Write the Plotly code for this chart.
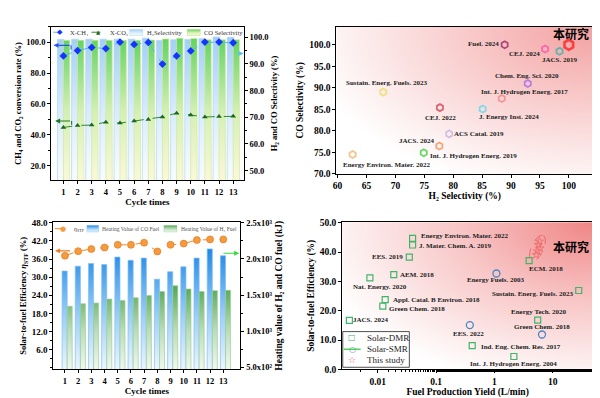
import base64
import numpy as np
import plotly.graph_objects as go

# ---------------- data ----------------
cycles = list(range(1, 14))
x_ch4 = [91.1, 94.5, 96.6, 95.8, 100.0, 98.5, 99.8, 85.8, 91.1, 94.3, 100.0, 100.0, 99.6]
x_co2 = [44.8, 46.1, 46.3, 48.2, 47.6, 48.9, 50.0, 51.6, 54.0, 52.9, 51.6, 51.8, 52.0]
h2_selectivity = [99.2, 99.3, 99.3, 99.3, 99.3, 99.3, 99.7, 98.8, 99.1, 99.2, 99.5, 100.1, 100.0]
co_selectivity = [98.9, 98.9, 98.9, 98.9, 98.9, 98.9, 99.0, 99.4, 99.7, 99.6, 99.1, 99.1, 99.1]

eta_stf = [37.1, 38.6, 39.3, 39.8, 40.7, 40.7, 41.4, 38.5, 40.7, 41.1, 42.3, 42.5, 42.5]
co_fuel_heat = [1832, 1900, 1936, 1922, 2026, 1981, 2012, 1719, 1823, 1891, 2012, 2139, 2044]
h2_fuel_heat = [1344, 1380, 1389, 1444, 1426, 1462, 1494, 1548, 1629, 1584, 1548, 1561, 1566]

tr_names = ['本研究', 'Fuel. 2024', 'CEJ. 2024', 'JACS. 2019', 'Chem. Eng. Sci. 2020',
            'Int. J. Hydrogen Energ. 2017', 'Sustain. Energ. Fuels. 2023', 'CEJ. 2022',
            'J. Energy Inst. 2024', 'ACS Catal. 2019', 'JACS. 2024',
            'Int. J. Hydrogen Energ. 2019', 'Energy Environ. Mater. 2022']
tr_h2_sel = [100.0, 88.9, 95.9, 98.4, 92.9, 88.4, 67.9, 77.7, 85.1, 79.3, 77.6, 74.9, 62.6]
tr_co_sel = [100.0, 100.0, 99.0, 98.5, 91.0, 87.5, 89.0, 85.4, 85.1, 79.3, 76.5, 74.9, 74.5]

dmr_names = ['Energy Environ. Mater. 2022', 'J. Mater. Chem. A. 2019', 'EES. 2019', 'AEM. 2018',
             'Nat. Energy. 2020', 'Appl. Catal. B Environ. 2018', 'Green Chem. 2018', 'JACS. 2024',
             'ECM. 2018', 'Sustain. Energ. Fuels. 2023', 'Energy Tech. 2020',
             'Ind. Eng. Chem. Res. 2017', 'Int. J. Hydrogen Energ. 2004']
dmr_yield = [0.0395, 0.0395, 0.0347, 0.0188, 0.00733, 0.0134, 0.0122, 0.00326,
             3.92, 27.8, 5.5, 0.415, 2.15]
dmr_eff = [44.7, 42.4, 38.3, 32.3, 31.2, 23.8, 21.6, 16.7, 37.1, 26.9, 16.8, 8.1, 4.4]

smr_names = ['Energy Fuels. 2003', 'EES. 2022', 'Green Chem. 2018']
smr_yield = [1.08, 0.378, 6.52]
smr_eff = [32.7, 15.1, 11.9]

study_yield = [5.9, 5.6, 6.05, 5.4, 5.15]
study_eff = [43.6, 42.5, 41.3, 40.3, 39.1]

tl_left_ticks = [20, 40, 60, 80, 100]
tl_right_ticks = [50, 60, 70, 80, 90, 100]
tr_x_ticks = [60, 65, 70, 75, 80, 85, 90, 95, 100]
tr_y_ticks = [70, 75, 80, 85, 90, 95, 100]
bl_left_ticks = [6, 12, 18, 24, 30, 36, 42, 48]
bl_right_ticks = [500, 1000, 1500, 2000, 2500]
bl_right_text = ['5.0x10²', '1.0x10³', '1.5x10³', '2.0x10³', '2.5x10³']
br_x_ticks = [0.01, 0.1, 1, 10]
br_x_text = ['0.01', '0.1', '1', '10']
br_y_ticks = [0, 10, 20, 30, 40, 50]

# ---------------- styles ----------------
SERIF = 'Liberation Serif'
CJK = 'Noto Sans CJK SC'
W, H = 600, 398

tr_colors = ['#ff1010', '#8e1458', '#ff45a8', '#22b5ad', '#9a5cf5', '#f27c7c', '#eadc5a',
             '#c8344e', '#45dcef', '#c3aee0', '#f2823e', '#22cc22', '#f2aa5a']
tr_label_shift = {  # pixel offsets of labels from their points
    '本研究': (2, 11), 'Fuel. 2024': (-21, 1), 'CEJ. 2024': (-21, -5), 'JACS. 2019': (0, -9),
    'Chem. Eng. Sci. 2020': (-1, 8), 'Int. J. Hydrogen Energ. 2017': (23, 7),
    'Sustain. Energ. Fuels. 2023': (3, 9), 'CEJ. 2022': (1, -10),
    'J. Energy Inst. 2024': (26, -8), 'ACS Catal. 2019': (30, 0), 'JACS. 2024': (-22, 5),
    'Int. J. Hydrogen Energ. 2019': (50, -3), 'Energy Environ. Mater. 2022': (34, -10)}
dmr_label_shift = [(52, 2), (43, -1), (-22, 0), (23, 0), (10, -9), (51, 0), (34, -3), (22, 0),
                   (17, -8), (-46, -4), (1, 8), (49, -1), (0, -7)]
smr_label_shift = [(-1, -7), (-1, -9), (0, 7)]


def px(x):
    return x / W


def py(y):
    return 1 - y / H


def svg_uri(svg):
    return 'data:image/svg+xml;base64,' + base64.b64encode(svg.encode('utf-8')).decode()


def grad_box(top, mid, bottom, stroke):
    svg = ('<svg xmlns="http://www.w3.org/2000/svg" width="40" height="20" viewBox="0 0 40 20" '
           'preserveAspectRatio="none"><defs><linearGradient id="g" x1="0" y1="0" x2="0" y2="1">'
           f'<stop offset="0" stop-color="{top}"/><stop offset="0.5" stop-color="{mid}"/>'
           f'<stop offset="1" stop-color="{bottom}"/></linearGradient></defs>'
           f'<rect x="1" y="1" width="38" height="18" fill="url(#g)" stroke="{stroke}" stroke-width="1.5"/></svg>')
    return svg_uri(svg)


def radial_bg(c0, c1, c2):
    svg = ('<svg xmlns="http://www.w3.org/2000/svg" width="100" height="100" viewBox="0 0 100 100" '
           'preserveAspectRatio="none"><defs><radialGradient id="r" cx="1" cy="0" r="1.15">'
           f'<stop offset="0" stop-color="{c0}"/><stop offset="0.45" stop-color="{c1}"/>'
           f'<stop offset="0.85" stop-color="{c2}"/><stop offset="1" stop-color="#ffffff"/>'
           '</radialGradient></defs><rect width="100" height="100" fill="url(#r)"/></svg>')
    return svg_uri(svg)


def bar_paths(centers, vals, lo, hi, base):
    xs, ys = [], []
    for c, v in zip(centers, vals):
        xs += [c + lo, c + lo, c + hi, c + hi, c + lo, None]
        ys += [base, v, v, base, base, None]
    return xs, ys


fig = go.Figure()

# ---------------- top-left ----------------
TL_R_MIN = 46.3
bx, by = bar_paths(cycles, h2_selectivity, -0.42, 0.05, TL_R_MIN)
fig.add_trace(go.Scatter(
    x=bx, y=by, mode='lines', fill='toself',
    fillgradient=dict(type='vertical', start=TL_R_MIN, stop=100.1,
                      colorscale=[[0, '#fbfdff'], [0.5, '#d9ecfb'], [1, '#a2cff5']]),
    line=dict(color='#acd6f6', width=0.7), xaxis='x', yaxis='y',
    showlegend=False, hoverinfo='skip'))
gx, gy = bar_paths(cycles, co_selectivity, 0.0, 0.45, TL_R_MIN)
fig.add_trace(go.Scatter(
    x=gx, y=gy, mode='lines', fill='toself',
    fillgradient=dict(type='vertical', start=TL_R_MIN, stop=99.7,
                      colorscale=[[0, '#fcf9dc'], [0.5, '#d3f0b4'], [1, '#62d362']]),
    line=dict(color='#d6e8a0', width=0.7), xaxis='x', yaxis='y',
    showlegend=False, hoverinfo='skip'))
fig.add_trace(go.Scatter(
    x=cycles, y=x_ch4, mode='lines+markers', name='X-CH₄',
    line=dict(color='#52b9ec', dash='dash', width=1),
    marker=dict(symbol='diamond', size=6, color='#1535ff'),
    xaxis='x', yaxis='y2', showlegend=False))
fig.add_trace(go.Scatter(
    x=cycles, y=x_co2, mode='lines+markers', name='X-CO₂',
    line=dict(color='#2f8a2f', dash='dash', width=1),
    marker=dict(symbol='triangle-up', size=5, color='#1d661d'),
    xaxis='x', yaxis='y2', showlegend=False))

# ---------------- top-right ----------------
fig.add_trace(go.Scatter(
    x=tr_h2_sel, y=tr_co_sel, mode='markers',
    marker=dict(symbol='hexagon-open', size=[10] + [7] * 12, color=tr_colors,
                line=dict(width=[2.6] + [1.8] * 12)),
    xaxis='x2', yaxis='y3', showlegend=False, hoverinfo='skip'))

# ---------------- bottom-left ----------------
BL_R_MIN = 470
cx_, cy_ = bar_paths(cycles, co_fuel_heat, -0.22, 0.17, BL_R_MIN)
fig.add_trace(go.Scatter(
    x=cx_, y=cy_, mode='lines', fill='toself',
    fillgradient=dict(type='vertical', start=BL_R_MIN, stop=max(co_fuel_heat),
                      colorscale=[[0, '#f3f9fe'], [0.45, '#9fd0f7'], [1, '#2188e6']]),
    line=dict(color='#7cc0f2', width=0.7), xaxis='x3', yaxis='y4',
    showlegend=False, hoverinfo='skip'))
hx_, hy_ = bar_paths(cycles, h2_fuel_heat, 0.17, 0.55, BL_R_MIN)
fig.add_trace(go.Scatter(
    x=hx_, y=hy_, mode='lines', fill='toself',
    fillgradient=dict(type='vertical', start=BL_R_MIN, stop=max(h2_fuel_heat),
                      colorscale=[[0, '#f7fbf7'], [0.5, '#b9dcb9'], [1, '#57a857']]),
    line=dict(color='#9ccf9c', width=0.7), xaxis='x3', yaxis='y4',
    showlegend=False, hoverinfo='skip'))
fig.add_trace(go.Scatter(
    x=cycles, y=eta_stf, mode='lines+markers', name='eta',
    line=dict(color='#f08a2c', dash='dash', width=1),
    marker=dict(symbol='circle', size=7, color='#f59a3e', line=dict(color='#e07412', width=0.6)),
    xaxis='x3', yaxis='y5', showlegend=False))

# ---------------- bottom-right ----------------
fig.add_trace(go.Scatter(
    x=dmr_yield, y=dmr_eff, mode='markers', name='Solar-DMR',
    marker=dict(symbol='square-open', size=6, color='#3fb56a', line=dict(width=1.2)),
    xaxis='x4', yaxis='y6', showlegend=False, hoverinfo='skip'))
smr_x, smr_y = [], []
for a, b in zip(smr_yield, smr_eff):
    smr_x += [a, None]
    smr_y += [b, None]
fig.add_trace(go.Scatter(
    x=smr_x, y=smr_y, mode='lines+markers', name='Solar-SMR',
    line=dict(color='#22cc22', width=1),
    marker=dict(symbol='circle-open', size=7, color='#4a86c5', line=dict(width=1.3)),
    xaxis='x4', yaxis='y6', showlegend=False, hoverinfo='skip'))
fig.add_trace(go.Scatter(
    x=study_yield, y=study_eff, mode='markers', name='This study',
    marker=dict(symbol='star-open', size=6, color='#f06a6a', line=dict(width=0.8)),
    xaxis='x4', yaxis='y6', showlegend=False, hoverinfo='skip'))

# ---------------- axes ----------------
def axis(size, **kw):
    d = dict(showline=True, linecolor='black', linewidth=1, ticks='outside', ticklen=3,
             tickwidth=1, tickcolor='black', showgrid=False, zeroline=False,
             tickfont=dict(family=SERIF, size=size, color='black', weight='bold'))
    d.update(kw)
    return d


def title(text, size, standoff):
    return dict(text=text, font=dict(family=SERIF, size=size, color='black', weight='bold'),
                standoff=standoff)


def minor(dt):
    return dict(dtick=dt, ticks='outside', ticklen=2, tickcolor='black')


TL_DOM_X = [0.0656, 0.3889]
TL_DOM_Y = [0.567, 0.9623]
TR_DOM_X = [0.5444, 0.975]
TR_DOM_Y = [0.5837, 0.9623]
BL_DOM_X = [0.0694, 0.3833]
BL_DOM_Y = [0.0812, 0.4598]
BR_DOM_X = [0.554, 0.975]
BR_DOM_Y = [0.0812, 0.4598]

fig.update_layout(
    xaxis=axis(8.5, domain=TL_DOM_X, anchor='y', range=[0.13, 13.75], tickvals=cycles,
               mirror=True, title=title('Cycle times', 9, 2)),
    yaxis=axis(8.5, domain=TL_DOM_Y, anchor='x', side='right', range=[TL_R_MIN, 104],
               tickvals=tl_right_ticks, tickformat='.1f', minor=minor(5),
               title=title('H₂ and CO Selectivity (%)', 8.5, 3)),
    yaxis2=axis(8.5, overlaying='y', anchor='x', side='left', range=[10.5, 110],
                tickvals=tl_left_ticks, tickformat='.1f', minor=minor(10),
                title=title('CH₄ and CO₂ conversion rate (%)', 8.5, 3)),
    xaxis2=axis(9.5, domain=TR_DOM_X, anchor='y3', range=[59.8, 104.2], tickvals=tr_x_ticks,
                mirror=True, title=title('H₂ Selectivity (%)', 9.5, 2)),
    yaxis3=axis(9.5, domain=TR_DOM_Y, anchor='x2', range=[70, 104.2], tickvals=tr_y_ticks,
                tickformat='.1f', mirror=True, title=title('CO Selectivity (%)', 9.5, 3)),
    xaxis3=axis(8.5, domain=BL_DOM_X, anchor='y4', range=[0.12, 14.3], tickvals=cycles,
                mirror=True, title=title('Cycle times', 9, 2)),
    yaxis4=axis(8.5, domain=BL_DOM_Y, anchor='x3', side='right', range=[BL_R_MIN, 2510],
                tickvals=bl_right_ticks, ticktext=bl_right_text, minor=minor(250),
                title=title('Heating value of H₂ and CO fuel (kJ)', 9.5, 3)),
    yaxis5=axis(9, overlaying='y4', anchor='x3', side='left', range=[-0.5, 48.2],
                tickvals=bl_left_ticks, tickformat='.1f', minor=minor(3),
                title=title('Solar-to-fuel Efficiency <i>η</i><sub>STF</sub> (%)', 8.5, 3)),
    xaxis4=axis(9.5, domain=BR_DOM_X, anchor='y6', type='log', range=[-2.61, 1.69],
                tickvals=br_x_ticks, ticktext=br_x_text, mirror=True,
                minor=dict(ticks='outside', ticklen=2, tickcolor='black'),
                title=title('Fuel Production Yield (L/min)', 9.5, 2)),
    yaxis6=axis(9.5, domain=BR_DOM_Y, anchor='x4', range=[0, 50.2], tickvals=br_y_ticks,
                tickformat='.1f', mirror=True, title=title('Solar-to-fuel Efficiency (%)', 9.5, 3)),
)

# ---------------- annotations ----------------
ann = []
shapes = []
images = []

lab_font = dict(family=SERIF, size=7, color='#222222', weight='bold')
cjk_font = dict(family=CJK, size=12, color='black', weight='bold')

for n, xv, yv in zip(tr_names, tr_h2_sel, tr_co_sel):
    dx, dy = tr_label_shift[n]
    ann.append(dict(x=xv, y=yv, xref='x2', yref='y3', text=n, showarrow=False,
                    xshift=dx, yshift=dy, font=cjk_font if n == '本研究' else lab_font))

for n, xv, yv, (dx, dy) in zip(dmr_names, dmr_yield, dmr_eff, dmr_label_shift):
    ann.append(dict(x=float(np.log10(xv)), y=yv, xref='x4', yref='y6', text=n, showarrow=False,
                    xshift=dx, yshift=dy, font=lab_font))
for n, xv, yv, (dx, dy) in zip(smr_names, smr_yield, smr_eff, smr_label_shift):
    ann.append(dict(x=float(np.log10(xv)), y=yv, xref='x4', yref='y6', text=n, showarrow=False,
                    xshift=dx, yshift=dy, font=lab_font))
ann.append(dict(x=float(np.log10(study_yield[2])), y=study_eff[2], xref='x4', yref='y6',
                text='本研究', showarrow=False, xshift=31, yshift=2, font=cjk_font))

# dashed ellipse around this study points (pixel geometry -> domain coordinates)
bx0, bx1, by_top, by_bot = 332.4, 585.0, 215.0, 365.7
t = np.linspace(0, 2 * np.pi, 72)
ang = np.deg2rad(24)
ux, uy = np.sin(ang), -np.cos(ang)
vx, vy = np.cos(ang), np.sin(ang)
ex = 529.0 + 14 * np.cos(t) * ux + 6 * np.sin(t) * vx
ey = 241.5 + 14 * np.cos(t) * uy + 6 * np.sin(t) * vy
dxs = (ex - bx0) / (bx1 - bx0)
dys = (by_bot - ey) / (by_bot - by_top)
path = 'M ' + ' L '.join(f'{a:.4f},{b:.4f}' for a, b in zip(dxs, dys)) + ' Z'
shapes.append(dict(type='path', path=path, xref='x4 domain', yref='y6 domain',
                   line=dict(color='#e8484a', width=0.7, dash='dash'), layer='above'))

# arrows top-left
arrow = dict(showarrow=True, arrowhead=2, arrowsize=0.9, arrowwidth=1.1, text='')
ann.append(dict(x=0.3, y=97.9, ax=1.54, ay=97.9, xref='x', yref='y2', axref='x', ayref='y2',
                arrowcolor='#2555f0', **arrow))
shapes.append(dict(type='line', x0=1.54, x1=1.54, y0=97.9, y1=95.3, xref='x', yref='y2',
                   line=dict(color='#2555f0', width=1.1)))
ann.append(dict(x=0.42, y=49.0, ax=1.58, ay=49.0, xref='x', yref='y2', axref='x', ayref='y2',
                arrowcolor='#1d7a1d', **arrow))
shapes.append(dict(type='line', x0=1.58, x1=1.58, y0=49.0, y1=46.5, xref='x', yref='y2',
                   line=dict(color='#1d7a1d', width=1.1)))
ann.append(dict(x=13.74, y=93.9, ax=13.2, ay=93.9, xref='x', yref='y', axref='x', ayref='y',
                arrowcolor='#5cc2ee', **arrow))
# arrows bottom-left
ann.append(dict(x=0.25, y=38.7, ax=1.5, ay=38.7, xref='x3', yref='y5', axref='x3', ayref='y5',
                arrowcolor='#f07a22', **arrow))
ann.append(dict(x=14.2, y=2080, ax=12.9, ay=2080, xref='x3', yref='y4', axref='x3', ayref='y4',
                arrowcolor='#33dd33', **arrow))

# ---------------- manual legends ----------------
def leg_text(x, y, text, size, color='#333333'):
    ann.append(dict(x=px(x), y=py(y), xref='paper', yref='paper', text=text, showarrow=False,
                    xanchor='left', yanchor='middle', font=dict(family=SERIF, size=size, color=color)))


def leg_glyph(x, y, g, color, size, family='DejaVu Sans'):
    ann.append(dict(x=px(x), y=py(y), xref='paper', yref='paper', text=g, showarrow=False,
                    xanchor='center', yanchor='middle', font=dict(family=family, size=size, color=color)))


def leg_line(x0, x1, y, color, dash='dash', width=1):
    shapes.append(dict(type='line', xref='paper', yref='paper', x0=px(x0), x1=px(x1),
                       y0=py(y), y1=py(y), line=dict(color=color, width=width, dash=dash)))


def leg_box(x0, x1, y0, y1, src):
    images.append(dict(source=src, xref='paper', yref='paper', x=px(x0), y=py(y0),
                       sizex=px(x1) - px(x0), sizey=(y1 - y0) / H, xanchor='left',
                       yanchor='top', sizing='stretch', layer='above'))


# top-left legend
leg_line(41.5, 55.5, 20.7, '#52b9ec')
leg_glyph(48.5, 20.7, '◆', '#1535ff', 7)
leg_text(56.5, 20.7, 'X-CH₄', 6.5)
leg_line(80, 95, 20.7, '#2f8a2f')
leg_glyph(87.5, 20.5, '▲', '#1d661d', 5.5)
leg_text(96.5, 20.7, 'X-CO₂', 6.5)
leg_box(118, 132, 17.5, 24.5, grad_box('#a2cff5', '#d9ecfb', '#fbfdff', '#acd6f6'))
leg_text(133.5, 20.7, 'H₂Selectivity', 6.5)
leg_box(176, 190, 17.5, 24.5, grad_box('#62d362', '#d3f0b4', '#fcf9dc', '#b5e07a'))
leg_text(191.5, 20.7, 'CO Selectivity', 6.5)

# bottom-left legend
leg_line(43, 60, 221.7, '#f08a2c')
leg_glyph(51, 221.7, '●', '#f59a3e', 7)
leg_text(60.5, 222.5, '<i>η</i><sub>STF</sub>', 6)
leg_box(75, 87.5, 218, 225.5, grad_box('#2188e6', '#9fd0f7', '#f3f9fe', '#6db8f0'))
leg_text(88.5, 221.7, 'Heating Value of CO Fuel', 5.5, '#555555')
leg_box(152.5, 166.5, 218, 225.5, grad_box('#57a857', '#b9dcb9', '#f7fbf7', '#8cc88c'))
leg_text(168, 221.7, 'Heating Value of H₂ Fuel', 5.5, '#555555')

# bottom-right legend
shapes.append(dict(type='rect', xref='paper', yref='paper', x0=px(333), x1=px(400),
                   y0=py(363.5), y1=py(327), fillcolor='white',
                   line=dict(color='#222222', width=0.8)))
leg_glyph(342.5, 333.5, '□', '#3fb56a', 8)
leg_text(355.5, 333.5, 'Solar-DMR', 9, '#222222')
leg_line(334, 351, 345, '#22cc22', dash='solid', width=1.2)
leg_glyph(342.5, 344.8, '○', '#4a86c5', 8)
leg_text(355.5, 345, 'Solar-SMR', 9, '#222222')
leg_glyph(342.5, 355.8, '☆', '#f05a5a', 9)
leg_text(355.5, 356, 'This study', 9, '#222222')

# gradient backgrounds of the right-hand panels
images.append(dict(source=radial_bg('#f3a0a0', '#f9cccc', '#fdf2f2'), xref='x2 domain',
                   yref='y3 domain', x=0, y=1, sizex=1, sizey=1, xanchor='left', yanchor='top',
                   sizing='stretch', layer='below'))
images.append(dict(source=radial_bg('#f08585', '#f8c4c4', '#fdf0f0'), xref='x4 domain',
                   yref='y6 domain', x=0, y=1, sizex=1, sizey=1, xanchor='left', yanchor='top',
                   sizing='stretch', layer='below'))

fig.update_layout(
    width=W, height=H, margin=dict(l=0, r=0, t=0, b=0),
    paper_bgcolor='white', plot_bgcolor='rgba(0,0,0,0)',
    showlegend=False, hovermode=False,
    annotations=ann, shapes=shapes, images=images,
    font=dict(family=SERIF, color='black'),
)

fig.write_html('out.html')
